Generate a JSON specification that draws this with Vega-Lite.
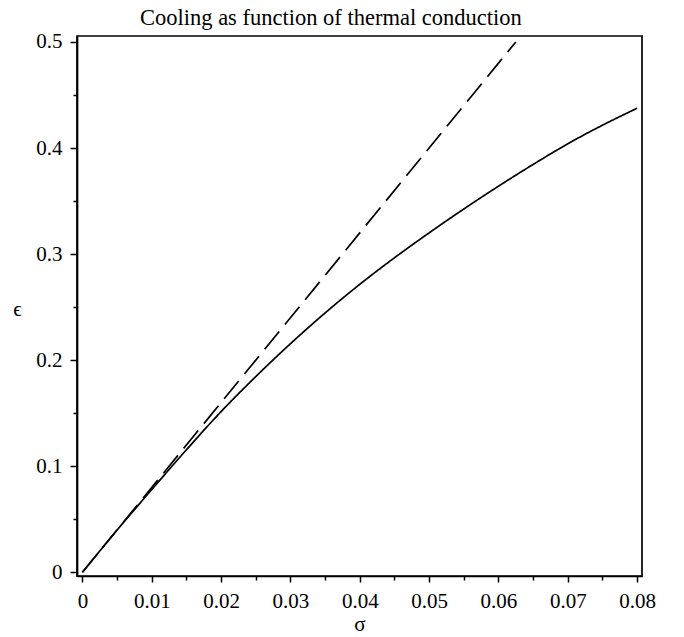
{
  "$schema": "https://vega.github.io/schema/vega-lite/v6.json",
  "autosize": "none",
  "width": 565,
  "height": 540,
  "padding": {"left": 77, "top": 36, "right": 42, "bottom": 61},
  "background": "white",
  "title": {
    "text": "Cooling as function of thermal conduction",
    "font": "Liberation Serif",
    "fontSize": 22.5,
    "fontWeight": "normal",
    "color": "black",
    "frame": "group",
    "anchor": "start",
    "dx": 63,
    "offset": 1
  },
  "config": {
    "view": {"stroke": "black", "strokeWidth": 1.7},
    "axis": {
      "labelFont": "Liberation Serif",
      "titleFont": "Liberation Serif",
      "labelColor": "black",
      "titleColor": "black",
      "tickColor": "black",
      "domainColor": "black",
      "domainWidth": 1.7,
      "tickWidth": 1.5,
      "grid": false,
      "labelOverlap": false,
      "labelFlush": false,
      "titleFontWeight": "normal"
    }
  },
  "data": {
    "values": [
      {"sigma": 0.0, "eps": 0.0, "series": "curve"},
      {"sigma": 0.005, "eps": 0.0398, "series": "curve"},
      {"sigma": 0.01, "eps": 0.078, "series": "curve"},
      {"sigma": 0.015, "eps": 0.1155, "series": "curve"},
      {"sigma": 0.02, "eps": 0.1515, "series": "curve"},
      {"sigma": 0.025, "eps": 0.1845, "series": "curve"},
      {"sigma": 0.03, "eps": 0.2155, "series": "curve"},
      {"sigma": 0.035, "eps": 0.2445, "series": "curve"},
      {"sigma": 0.04, "eps": 0.2715, "series": "curve"},
      {"sigma": 0.045, "eps": 0.2965, "series": "curve"},
      {"sigma": 0.05, "eps": 0.3200, "series": "curve"},
      {"sigma": 0.055, "eps": 0.3425, "series": "curve"},
      {"sigma": 0.06, "eps": 0.3640, "series": "curve"},
      {"sigma": 0.065, "eps": 0.3845, "series": "curve"},
      {"sigma": 0.07, "eps": 0.4040, "series": "curve"},
      {"sigma": 0.075, "eps": 0.4215, "series": "curve"},
      {"sigma": 0.08, "eps": 0.4375, "series": "curve"},
      {"sigma": 0.0, "eps": 0.0, "series": "linear"},
      {"sigma": 0.0625, "eps": 0.5, "series": "linear"}
    ]
  },
  "mark": {"type": "line", "color": "black", "strokeWidth": 1.7, "clip": true, "interpolate": "monotone"},
  "encoding": {
    "x": {
      "field": "sigma",
      "type": "quantitative",
      "scale": {"domain": [-0.00078, 0.0807], "nice": false, "zero": false},
      "axis": {
        "title": "σ",
        "titleFontSize": 21,
        "titleAngle": 0,
        "titleBaseline": "middle",
        "titleY": 48,
        "values": [0, 0.005, 0.01, 0.015, 0.02, 0.025, 0.03, 0.035, 0.04, 0.045, 0.05, 0.055, 0.06, 0.065, 0.07, 0.075, 0.08],
        "labelExpr": "abs(datum.value*100 - round(datum.value*100)) > 0.1 ? '' : format(datum.value, '~g')",
        "tickSize": {"condition": {"test": "abs(datum.value*100 - round(datum.value*100)) > 0.1", "value": 4}, "value": 6},
        "labelFontSize": 21,
        "labelPadding": 8
      }
    },
    "y": {
      "field": "eps",
      "type": "quantitative",
      "scale": {"domain": [-0.0035, 0.5056], "nice": false, "zero": false},
      "axis": {
        "title": "ϵ",
        "titleFontSize": 21,
        "titleAngle": 0,
        "titleAlign": "center",
        "titleBaseline": "middle",
        "titleX": -60,
        "titleY": 273,
        "values": [0, 0.05, 0.1, 0.15, 0.2, 0.25, 0.3, 0.35, 0.4, 0.45, 0.5],
        "labelExpr": "abs(datum.value*10 - round(datum.value*10)) > 0.1 ? '' : format(datum.value, '~g')",
        "tickSize": {"condition": {"test": "abs(datum.value*10 - round(datum.value*10)) > 0.1", "value": 4}, "value": 7},
        "labelFontSize": 21,
        "labelPadding": 8
      }
    },
    "detail": {"field": "series", "type": "nominal"},
    "strokeDash": {
      "field": "series",
      "type": "nominal",
      "scale": {"domain": ["curve", "linear"], "range": [[1, 0], [23, 9]]},
      "legend": null
    }
  }
}
